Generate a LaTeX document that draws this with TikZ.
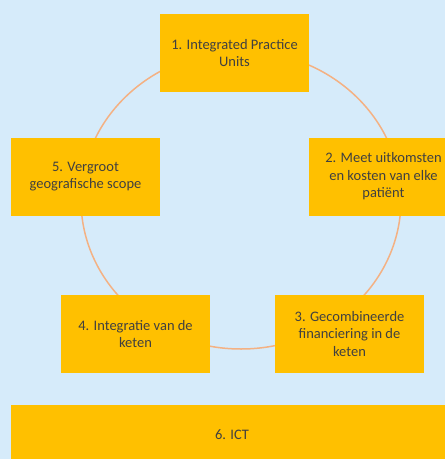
\documentclass[tikz,border=0pt]{standalone}
\usepackage{fontspec}
\setmainfont{Carlito}
\usetikzlibrary{positioning}
\definecolor{vbBg}{HTML}{D6EBFA}
\definecolor{vbBox}{HTML}{FFC000}
\definecolor{vbRing}{HTML}{F4B183}
\definecolor{vbInk}{HTML}{404040}

\begin{document}
\begin{tikzpicture}[
  x=1pt, y=-1pt,
  font=\fontsize{14.5}{17.5}\selectfont,
  pillar/.style={fill=vbBox,draw=none,align=center,text=vbInk,inner sep=0pt,
                 minimum width=149pt,minimum height=78pt},
  ring/.style={draw=vbRing,line width=1.5pt},
]
\clip (0,0) rectangle (445,459);
\fill[vbBg] (0,0) rectangle (445,459);

% the value cycle behind the boxes
\draw[ring] (241,200) ellipse [x radius=160pt, y radius=149pt];

\node[pillar] (ipu)   at (234.5,53)   {1. Integrated Practice\\Units};
\node[pillar] (meten) at (383.5,176.5) {2. Meet uitkomsten\\en kosten van elke\\patiënt};
\node[pillar] (fin)   at (349.5,334)  {3. Gecombineerde\\financiering in de\\keten};
\node[pillar] (keten) at (135.5,334)  {4. Integratie van de\\keten};
\node[pillar] (scope) at (85.5,176.5)  {5. Vergroot\\geografische scope};
% ICT spans the whole width
\node[pillar,minimum width=442pt,minimum height=60pt] (ict) at (232,435) {6. ICT};
\end{tikzpicture}
\end{document}
